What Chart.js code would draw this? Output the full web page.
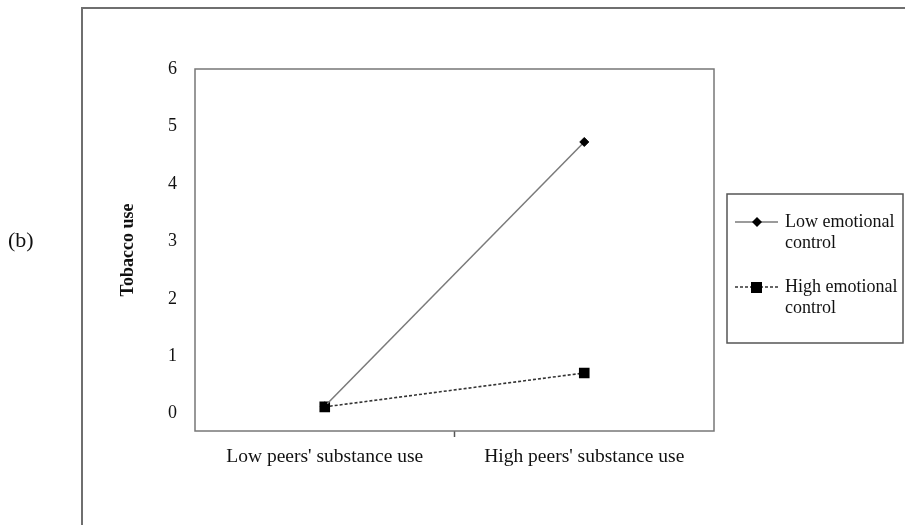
<!DOCTYPE html>
<html>
<head>
<meta charset="utf-8">
<script src="https://cdn.jsdelivr.net/npm/chart.js@4.4.1/dist/chart.umd.min.js"></script>
<style>
  html, body { margin: 0; padding: 0; background: #fff; }
  #wrap { position: relative; width: 905px; height: 525px; }
  #panel { position: absolute; left: 8px; top: 227px; font: 22px "Liberation Serif", "Times New Roman", serif; color: #111; }
</style>
</head>
<body>
<div id="wrap">
  <canvas id="chart" width="905" height="525"></canvas>
  <div id="panel">(b)</div>
</div>
<script>
// Data
const categories = ["Low peers' substance use", "High peers' substance use"];
const lowEmotionalControl = [0.13, 4.73];
const highEmotionalControl = [0.12, 0.71];
const yTicks = [0, 1, 2, 3, 4, 5, 6];
const legendLabels = [['Low emotional', 'control'], ['High emotional', 'control']];

const serif = '"Liberation Serif", "Times New Roman", serif';

// outer frame, plot box and the boxed legend on the right
const decorations = {
    id: 'decorations',
    beforeDraw(chart) {
        const c = chart.ctx;
        c.save();
        c.fillStyle = '#fff';
        c.fillRect(0, 0, chart.width, chart.height);
        c.strokeStyle = '#6f6f6f';
        c.lineWidth = 2;
        c.beginPath();
        c.moveTo(82, chart.height);
        c.lineTo(82, 8);
        c.lineTo(chart.width, 8);
        c.stroke();
        c.restore();
    },
    afterDraw(chart) {
        const c = chart.ctx;
        const a = chart.chartArea;
        c.save();
        c.strokeStyle = '#777';
        c.lineWidth = 1.5;
        c.strokeRect(a.left, a.top, a.right - a.left, a.bottom - a.top);

        // legend box
        c.strokeStyle = '#555';
        c.lineWidth = 1.5;
        c.strokeRect(727, 194, 176, 149);
        c.font = '18px ' + serif;
        c.fillStyle = '#111';
        c.textBaseline = 'middle';
        const rows = [222, 287];
        chart.data.datasets.forEach((ds, i) => {
            const y = rows[i];
            c.strokeStyle = ds.borderColor;
            c.lineWidth = ds.borderWidth;
            c.setLineDash(ds.borderDash || []);
            c.beginPath();
            c.moveTo(735, y);
            c.lineTo(778, y);
            c.stroke();
            c.setLineDash([]);
            c.fillStyle = '#000';
            if (ds.pointStyle === 'rect') {
                c.fillRect(751, y - 5, 11, 11);
            } else {
                c.beginPath();
                c.moveTo(757, y - 5);
                c.lineTo(762, y);
                c.lineTo(757, y + 5);
                c.lineTo(752, y);
                c.closePath();
                c.fill();
            }
            c.fillStyle = '#111';
            legendLabels[i].forEach((t, k) => c.fillText(t, 785, y + k * 21));
        });
        c.restore();
    }
};

const ctx = document.getElementById('chart').getContext('2d');
const chart = new Chart(ctx, {
    type: 'line',
    data: {
        labels: categories,
        datasets: [{
            label: 'Low emotional control',
            data: lowEmotionalControl,
            borderColor: '#7a7a7a',
            borderWidth: 1.5,
            pointStyle: 'rectRot',
            pointRadius: 4.5,
            pointBackgroundColor: '#000',
            pointBorderColor: '#000',
            pointBorderWidth: 1,
            tension: 0
        }, {
            label: 'High emotional control',
            data: highEmotionalControl,
            borderColor: '#333',
            borderWidth: 1.6,
            borderDash: [3, 2],
            pointStyle: 'rect',
            pointRadius: 7.5,
            pointBackgroundColor: '#000',
            pointBorderColor: '#000',
            pointBorderWidth: 0,
            tension: 0
        }]
    },
    options: {
        responsive: false,
        animation: false,
        layout: { padding: { left: 100, top: 69, right: 191, bottom: 44 } },
        plugins: { legend: { display: false }, tooltip: { enabled: false } },
        scales: {
            x: {
                offset: true,
                border: { display: false },
                grid: {
                    offset: true,
                    drawOnChartArea: false,
                    drawTicks: true,
                    tickLength: 6,
                    tickWidth: 1.5,
                    tickColor: c => c.index === 1 ? '#555' : 'rgba(0,0,0,0)'
                },
                ticks: {
                    color: '#111',
                    padding: 8,
                    maxRotation: 0,
                    font: { family: serif, size: 19.5 }
                },
                afterFit: s => { s.height = 50; }
            },
            y: {
                min: -0.3,
                max: 6,
                border: { display: false },
                grid: { display: false, drawTicks: false },
                afterBuildTicks: s => { s.ticks = yTicks.map(v => ({ value: v })); },
                ticks: {
                    color: '#111',
                    padding: 18,
                    font: { family: serif, size: 18 }
                },
                title: {
                    display: true,
                    text: 'Tobacco use',
                    color: '#111',
                    padding: { top: 18, bottom: 0 },
                    font: { family: serif, size: 18, weight: 'bold' }
                },
                afterFit: s => { s.width = 95; }
            }
        }
    },
    plugins: [decorations]
});
</script>
</body>
</html>
